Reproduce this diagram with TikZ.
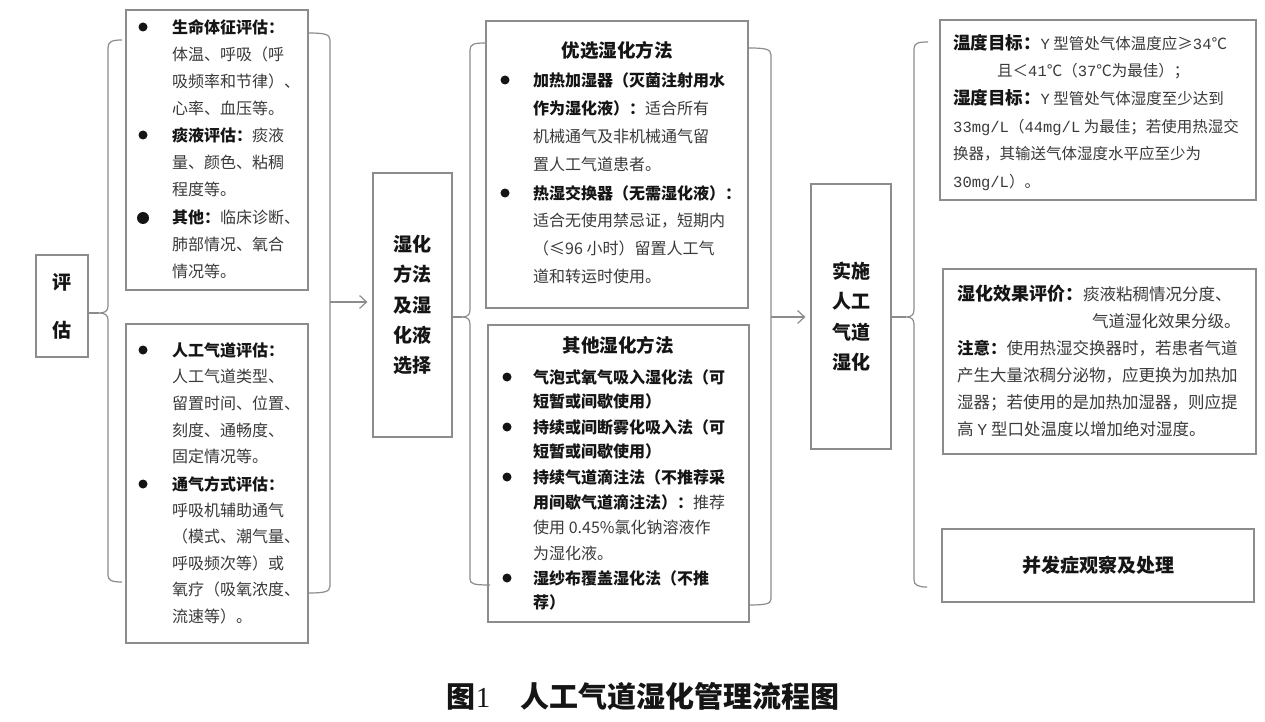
\documentclass[tikz,border=0pt]{standalone}
\usepackage{fontspec}
\setmainfont{Noto Sans CJK SC}
\newfontfamily\latmono{Liberation Mono}
\newfontfamily\latserif{Liberation Serif}
\usetikzlibrary{arrows.meta}
\definecolor{linegray}{HTML}{8C8C8C}
\definecolor{txtgray}{HTML}{3A3A3A}
\definecolor{txtdark}{HTML}{151515}
\newcommand{\hd}[1]{{\bfseries\color{txtdark}#1}}
\begin{document}
\begin{tikzpicture}[x=1pt,y=-1pt,
  box/.style={draw=linegray, line width=1.2pt, inner sep=0pt},
  brk/.style={draw=linegray, line width=1.2pt},
  arr/.style={draw=linegray, line width=1.2pt, shorten >=5pt, -{Straight Barb[length=7pt,width=13pt]}},
  item/.style={anchor=north west, inner sep=0pt, align=left, text=txtgray, font=\fontsize{16}{27}\selectfont},
  bul/.style={circle, fill=txtdark, inner sep=0pt, minimum size=9pt},
  ttl/.style={inner sep=0pt, align=center, text=txtdark, font=\bfseries\fontsize{19}{30.3}\selectfont}
]
\fill[white] (0,0) rectangle (1265,722);
\useasboundingbox (0,0) rectangle (1265,722);

% ---------- boxes ----------
\node[box, ttl, font=\bfseries\fontsize{19}{48}\selectfont, minimum width=52pt, minimum height=102pt] (P) at (62,306) {评\\估};
\node[box, minimum width=182pt, minimum height=280pt] (A) at (217,150) {};
\node[box, minimum width=182pt, minimum height=319pt] (B) at (217,483.5) {};
\node[box, ttl, minimum width=79pt, minimum height=264pt] (M) at (412.5,305) {湿化\\方法\\及湿\\化液\\选择};
\node[box, minimum width=262pt, minimum height=287pt] (C) at (617,164.5) {};
\node[box, minimum width=261pt, minimum height=297pt] (D) at (618.5,473.5) {};
\node[box, ttl, minimum width=80pt, minimum height=265pt] (S) at (851,316.5) {实施\\人工\\气道\\湿化};
\node[box, minimum width=316pt, minimum height=180pt] (E) at (1098,110) {};
\node[box, minimum width=313pt, minimum height=185pt] (F) at (1099.5,361.5) {};
\node[box, ttl, minimum width=312pt, minimum height=73pt] (G) at (1098,565.5) {并发症观察及处理};

% ---------- box A ----------
\node[bul] (a1b) at (143,27) {};
\node[item] (a1) at (172,19) {\hd{生命体征评估：}\\体温、呼吸（呼\\吸频率和节律）、\\心率、血压等。};
\node[bul] (a2b) at (143,135) {};
\node[item] (a2) at (172,127) {\hd{痰液评估：}痰液\\量、颜色、粘稠\\程度等。};
\node[bul, minimum size=12pt] (a3b) at (143,218) {};
\node[item] (a3) at (172,210) {\hd{其他：}临床诊断、\\肺部情况、氧合\\情况等。};

% ---------- box B ----------
\node[bul] (b1b) at (143,350) {};
\node[item, font=\fontsize{16}{26.7}\selectfont] (b1) at (172,342) {\hd{人工气道评估：}\\人工气道类型、\\留置时间、位置、\\刻度、通畅度、\\固定情况等。};
\node[bul] (b2b) at (143,484) {};
\node[item, font=\fontsize{16}{26.4}\selectfont] (b2) at (172,476) {\hd{通气方式评估：}\\呼吸机辅助通气\\（模式、潮气量、\\呼吸频次等）或\\氧疗（吸氧浓度、\\流速等）。};

% ---------- box C ----------
\node[ttl, font=\bfseries\fontsize{18.5}{20}\selectfont] (Ct) at (617,50) {优选湿化方法};
\node[bul] (c1b) at (505,80) {};
\node[item, font=\fontsize{16}{28}\selectfont] (c1) at (533,72) {\hd{加热加湿器（灭菌注射用水}\\\hd{作为湿化液）：}适合所有\\机械通气及非机械通气留\\置人工气道患者。};
\node[bul] (c2b) at (505,193) {};
\node[item, font=\fontsize{16}{27.7}\selectfont] (c2) at (533,185) {\hd{热湿交换器（无需湿化液）：}\\适合无使用禁忌证，短期内\\（≤96 小时）留置人工气\\道和转运时使用。};

% ---------- box D ----------
\node[ttl, font=\bfseries\fontsize{18.5}{20}\selectfont] (Dt) at (618,345) {其他湿化方法};
\node[bul] (d1b) at (507,377) {};
\node[item, font=\fontsize{16}{24.5}\selectfont] (d1) at (533,369) {\hd{气泡式氧气吸入湿化法（可}\\\hd{短暂或间歇使用）}};
\node[bul] (d2b) at (507,427) {};
\node[item, font=\fontsize{16}{24.5}\selectfont] (d2) at (533,419) {\hd{持续或间断雾化吸入法（可}\\\hd{短暂或间歇使用）}};
\node[bul] (d3b) at (507,477) {};
\node[item, font=\fontsize{16}{25.3}\selectfont] (d3) at (533,469) {\hd{持续气道滴注法（不推荐采}\\\hd{用间歇气道滴注法）：}推荐\\使用 0.45\%氯化钠溶液作\\为湿化液。};
\node[bul] (d4b) at (507,578) {};
\node[item, font=\fontsize{16}{24.5}\selectfont] (d4) at (533,570) {\hd{湿纱布覆盖湿化法（不推}\\\hd{荐）}};

% ---------- box E ----------
\node[item, font=\fontsize{15.5}{27.6}\selectfont] (e1) at (953,34) {\hd{\fontsize{17.5}{27.6}\selectfont 温度目标：}{\latmono Y} 型管处气体温度应≥{\latmono 34}℃\\\hspace*{44pt}且＜{\latmono 41}℃（{\latmono 37}℃为最佳）；\\\hd{\fontsize{17.5}{27.6}\selectfont 湿度目标：}{\latmono Y} 型管处气体湿度至少达到\\{\latmono 33mg/L}（{\latmono 44mg/L} 为最佳；若使用热湿交\\换器，其输送气体湿度水平应至少为\\{\latmono 30mg/L}）。};

% ---------- box F ----------
\node[item, font=\fontsize{16.5}{27}\selectfont] (f1) at (957,285) {\hd{\fontsize{18}{27}\selectfont 湿化效果评价：}痰液粘稠情况分度、\\\hspace*{135pt}气道湿化效果分级。\\\hd{注意：}使用热湿交换器时，若患者气道\\产生大量浓稠分泌物，应更换为加热加\\湿器；若使用的是加热加湿器，则应提\\高 {\latmono Y} 型口处温度以增加绝对湿度。};

% ---------- caption ----------
\node[inner sep=0pt, text=txtdark, font=\bfseries\fontsize{29}{32}\selectfont] (cap) at (643,697) {图{\latserif\mdseries 1}\hspace{30pt}人工气道湿化管理流程图};

% ---------- braces and connectors ----------
\coordinate (l1tip) at (99,313);
\draw[brk] (122,40) .. controls (111,40) and (108,42) .. (108,48) -- (108,306) .. controls (108,311) and (105,313) .. (l1tip) .. controls (105,313) and (108,315) .. (108,320) -- (108,575) .. controls (108,580) and (111,582) .. (122,582);
\draw[brk] (l1tip) -- (l1tip -| P.east);

\coordinate (r1mid) at (330,302);
\draw[brk] (308,33) .. controls (324,33) and (330,34) .. (330,40) -- (330,586) .. controls (330,592) and (324,593) .. (308,593);
\draw[arr] (r1mid) -- (r1mid -| M.west);

\coordinate (l2tip) at (462,317);
\draw[brk] (486,43) .. controls (474,43) and (470,44) .. (470,50) -- (470,310) .. controls (470,315) and (467,317) .. (l2tip) .. controls (467,317) and (470,319) .. (470,324) -- (470,579) .. controls (470,584) and (474,585) .. (490,585);
\draw[brk] (l2tip) -- (l2tip -| M.east);

\coordinate (r2mid) at (771,317);
\draw[brk] (749,48) .. controls (765,48) and (771,49) .. (771,55) -- (771,599) .. controls (771,604) and (765,605) .. (749,605);
\draw[arr] (r2mid) -- (r2mid -| S.west);

\coordinate (l3tip) at (906,317);
\draw[brk] (928,42) .. controls (918,42) and (914,43) .. (914,49) -- (914,310) .. controls (914,315) and (911,317) .. (l3tip) .. controls (911,317) and (914,319) .. (914,324) -- (914,580) .. controls (914,585) and (918,587) .. (927,587);
\draw[brk] (l3tip) -- (l3tip -| S.east);
\end{tikzpicture}
\end{document}
